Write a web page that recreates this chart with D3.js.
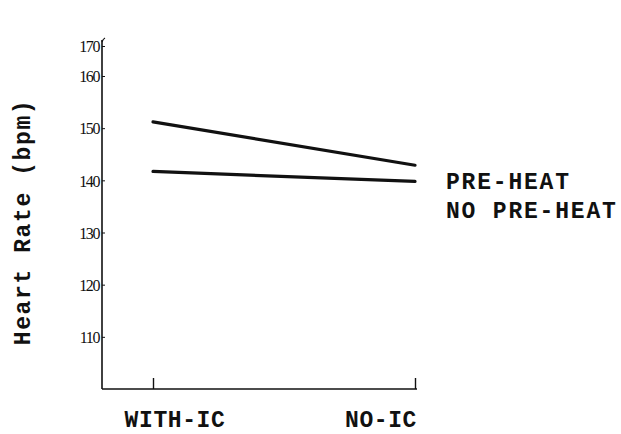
<!DOCTYPE html>
<html>
<head>
<meta charset="utf-8">
<script src="https://cdn.jsdelivr.net/npm/d3@7"></script>
<style>
  html, body { margin: 0; padding: 0; background: #fff; }
  svg { display: block; }
  .mono { font-family: "Liberation Mono", "Courier New", monospace; font-weight: bold; }
  .ytick text { font-family: "Liberation Serif", serif !important; font-size: 16px !important; letter-spacing: -1.4px; }
</style>
</head>
<body>
<svg id="chart" width="621" height="434"></svg>
<script>
const categories = ["WITH-IC", "NO-IC"];
const seriesNames = ["PRE-HEAT", "NO PRE-HEAT"];
const preHeat = [151.2, 142.9];
const noPreHeat = [141.7, 139.8];
const yTicks = [110, 120, 130, 140, 150, 160, 170];
const yLabel = "Heart Rate (bpm)";

const svg = d3.select("#chart");
const ink = "#111";

// scales (hand-drawn axis: top interval is slightly compressed)
const y = d3.scaleLinear().domain([100, 160, 170]).range([389, 76, 46]);
const x = d3.scalePoint().domain(categories).range([153, 415]);
const xLab = d3.scalePoint().domain(categories).range([175, 381]);

// Y axis
const yAxis = d3.axisLeft(y).tickValues(yTicks).tickSizeInner(-3).tickSizeOuter(0).tickPadding(3).tickFormat(d3.format("d"));
const gy = svg.append("g").attr("class", "ytick").attr("transform", "translate(102,0)").call(yAxis)
  .attr("font-family", "Liberation Serif").attr("font-size", 16);
gy.select(".domain").remove();
gy.selectAll(".tick line").attr("stroke", ink).attr("stroke-width", 1);
gy.selectAll(".tick text").attr("fill", ink).attr("dy", "0.36em");
gy.append("line").attr("x1", 0).attr("x2", 0).attr("y1", y(100)).attr("y2", 40)
  .attr("stroke", ink).attr("stroke-width", 1.6);
gy.append("path").attr("d", `M0,42 q1,-3 3,-4`).attr("fill", "none").attr("stroke", ink).attr("stroke-width", 1.2);

// X axis
const xAxis = d3.axisBottom(x).tickSizeInner(-11).tickSizeOuter(0).tickFormat("");
const gx = svg.append("g").attr("transform", `translate(0,${y(100)})`).call(xAxis);
gx.select(".domain").remove();
gx.selectAll(".tick line").attr("stroke", ink).attr("stroke-width", 1.4);
gx.append("line").attr("x1", 102).attr("x2", 417).attr("y1", 0).attr("y2", 0)
  .attr("stroke", ink).attr("stroke-width", 1.6);

svg.append("g").selectAll("text").data(categories).join("text")
  .attr("class", "mono")
  .attr("x", d => xLab(d)).attr("y", 427)
  .attr("text-anchor", "middle")
  .attr("fill", ink)
  .style("font-size", "23px")
  .style("letter-spacing", "0.6px")
  .text(d => d);

// Y label
svg.append("text").attr("class", "mono")
  .attr("transform", "translate(30,222) rotate(-90)")
  .attr("text-anchor", "middle")
  .attr("fill", ink)
  .style("font-size", "23px")
  .style("letter-spacing", "1.6px")
  .text(yLabel);

// Lines
const line = d3.line().x((d, i) => x(categories[i])).y(d => y(d));
const series = [preHeat, noPreHeat];
svg.append("g").selectAll("path").data(series).join("path")
  .attr("d", d => line(d))
  .attr("fill", "none").attr("stroke", ink).attr("stroke-width", 3.2).attr("stroke-linecap", "round");

// Series labels
svg.append("g").selectAll("text").data(seriesNames).join("text")
  .attr("class", "mono")
  .attr("x", 446)
  .attr("y", (d, i) => [189, 218][i])
  .attr("fill", ink)
  .style("font-size", "23px")
  .style("letter-spacing", "1.8px")
  .text(d => d);
</script>
</body>
</html>
